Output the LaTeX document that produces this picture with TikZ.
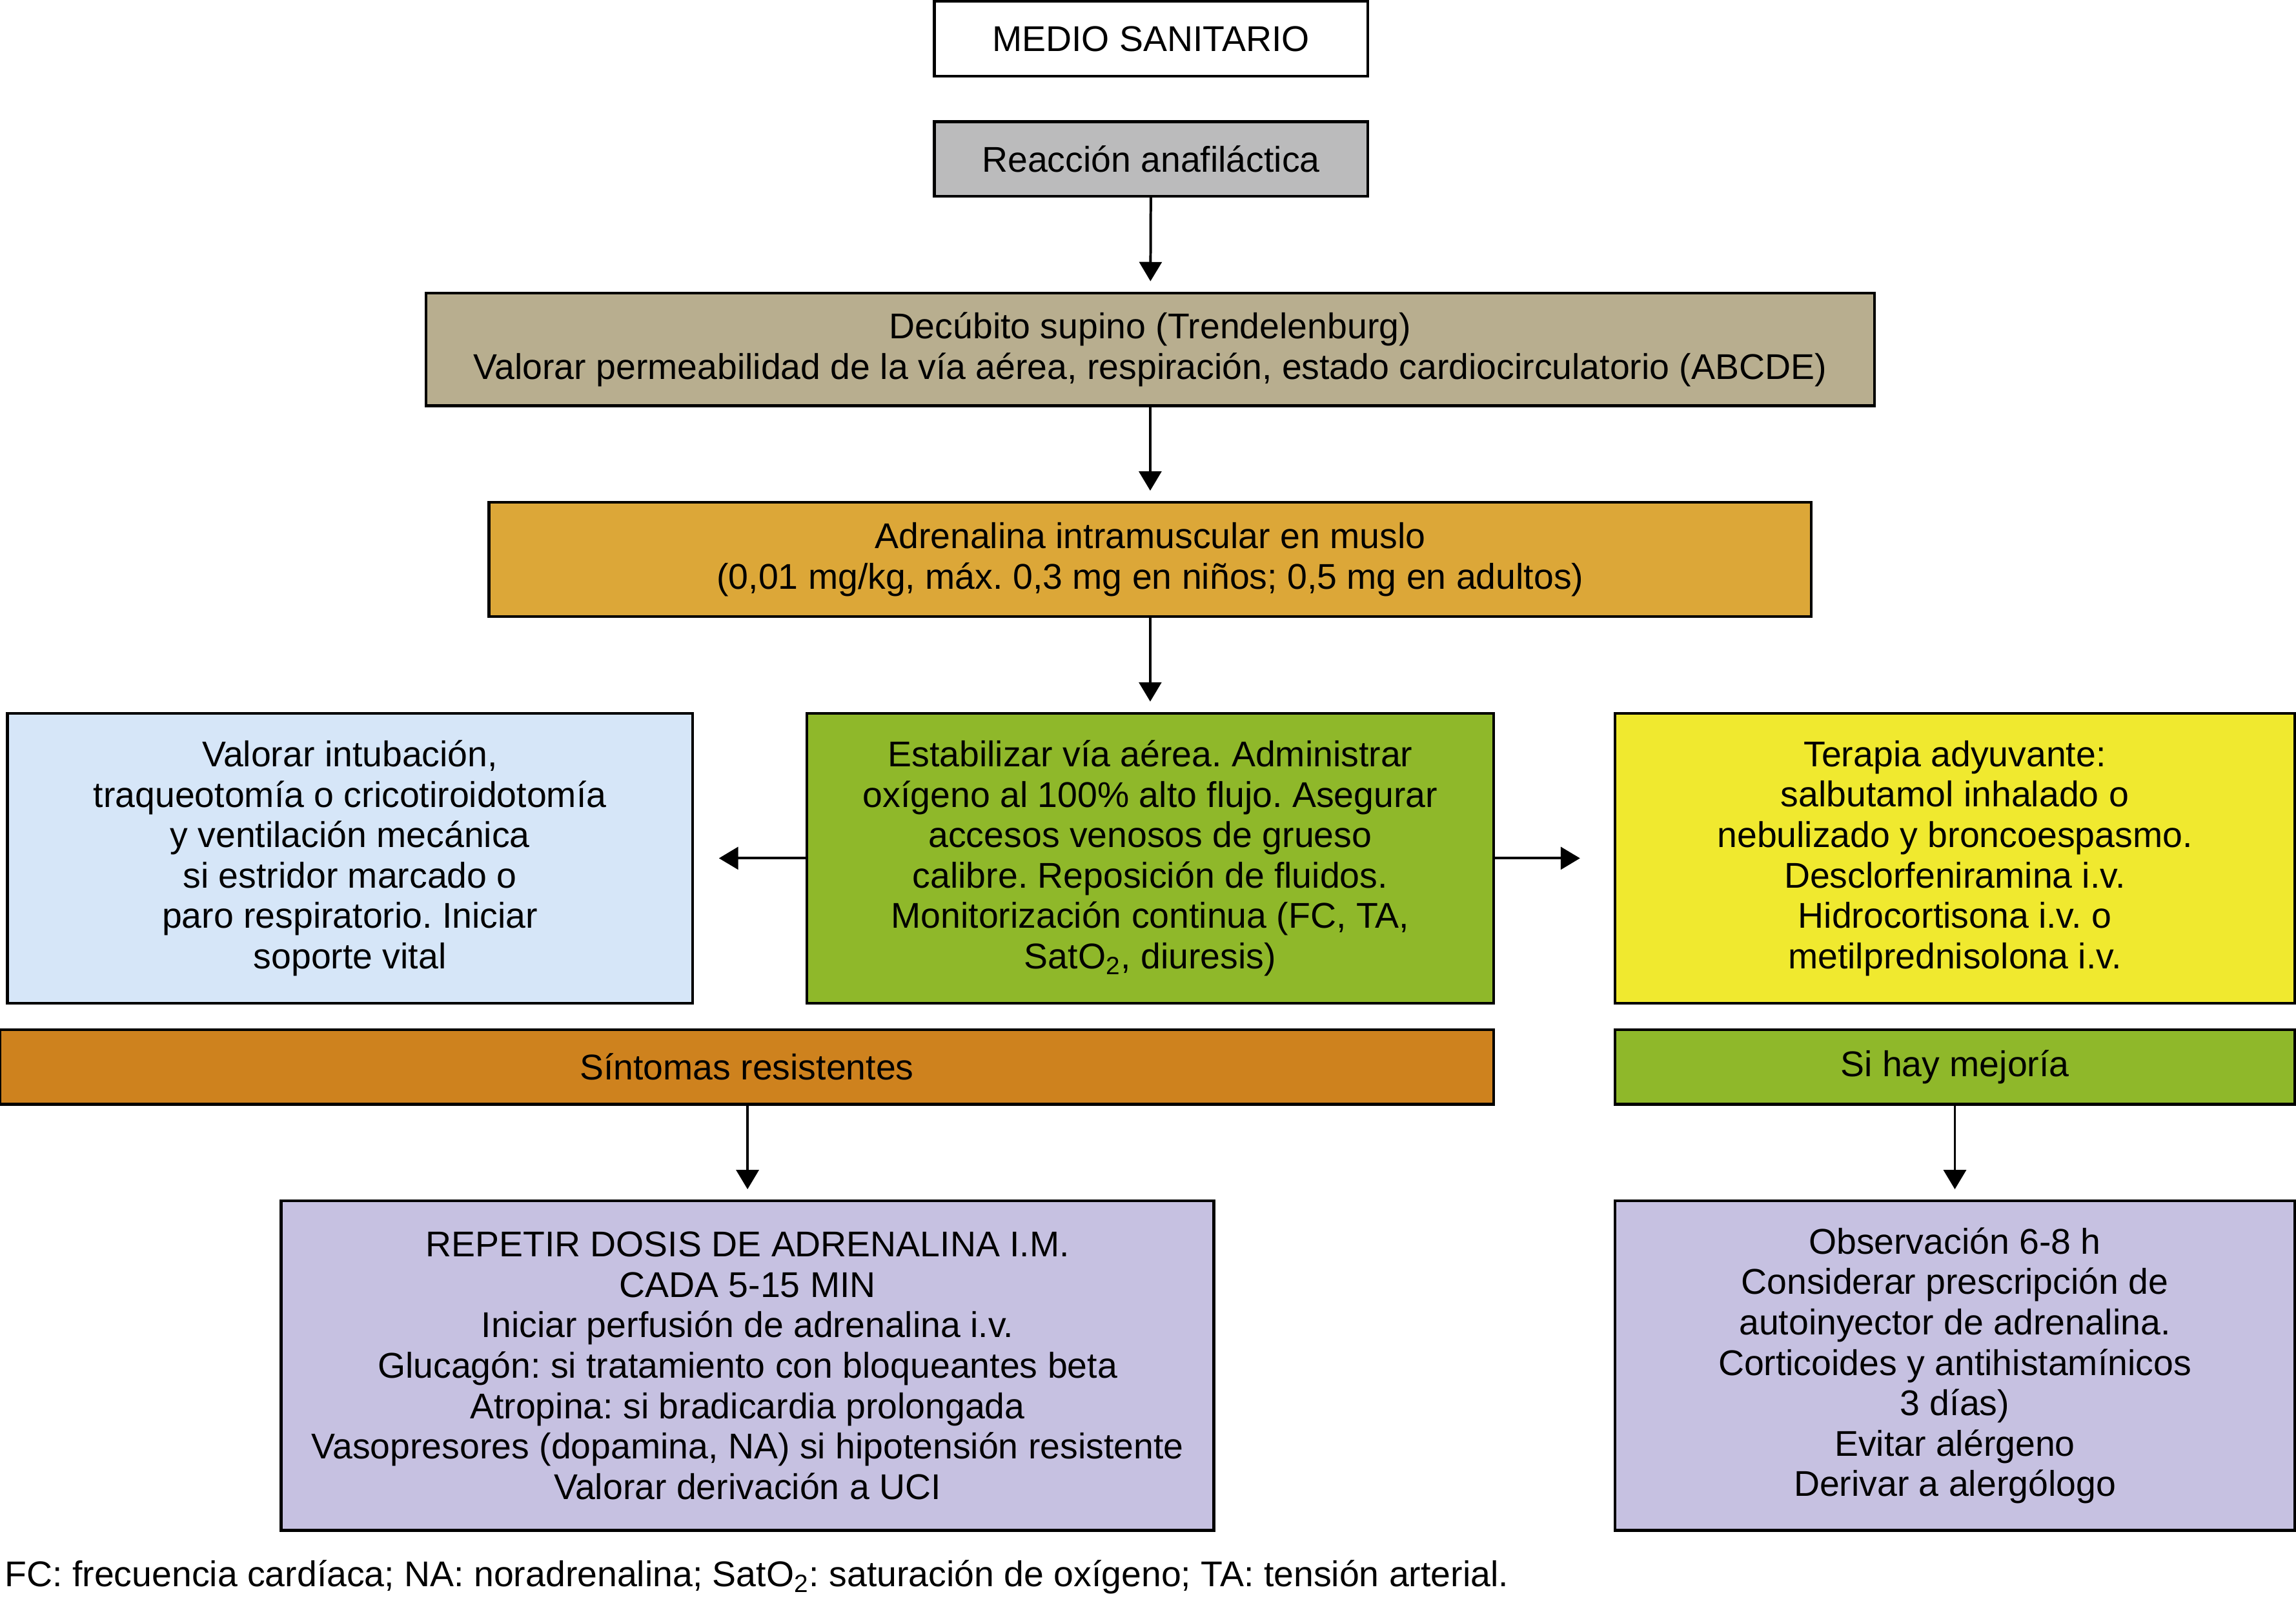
\documentclass[tikz,border=0pt]{standalone}
\usepackage{fontspec}
\setmainfont{Liberation Sans}
\usetikzlibrary{arrows.meta}
\frenchspacing
\definecolor{grisbox}{HTML}{BBBBBC}
\definecolor{tanbox}{HTML}{B8AE8F}
\definecolor{orobox}{HTML}{DCA738}
\definecolor{azulbox}{HTML}{D6E6F8}
\definecolor{verdebox}{HTML}{8FB82A}
\definecolor{amarbox}{HTML}{F0E92F}
\definecolor{naranjabox}{HTML}{CE821E}
\definecolor{lilabox}{HTML}{C6C1E1}
\tikzstyle{box}=[draw, line width=1.1pt, align=center, inner sep=2pt, font=\fontsize{13.9}{15.7}\selectfont]
\tikzstyle{sbox}=[box, minimum height=1.02cm]
\tikzstyle{tbox}=[box, minimum height=3.96cm]
\tikzstyle{lbox}=[box, minimum height=4.5cm]
\tikzstyle{flecha}=[-{Triangle[length=7.5pt,width=8.7pt]}, line width=1pt, shorten >=0.14cm]

\begin{document}
\begin{tikzpicture}
        \useasboundingbox (0,0) rectangle (31.36,-21.883);
        \node[sbox, minimum width=5.92cm] (medio) at (15.72,-0.53) {MEDIO SANITARIO};
        \node[sbox, fill=grisbox, minimum width=5.92cm] (reaccion) at (15.72,-2.17) {Reacción anafiláctica};
        \node[box, fill=tanbox, minimum width=19.78cm, minimum height=1.54cm] (decubito) at (15.71,-4.77) {Decúbito supino (Trendelenburg)\\Valorar permeabilidad de la vía aérea, respiración, estado cardiocirculatorio (ABCDE)};
        \node[box, fill=orobox, minimum width=18.06cm, minimum height=1.56cm] (adren) at (15.71,-7.64) {Adrenalina intramuscular en muslo\\(0,01 mg/kg, máx. 0,3 mg en niños; 0,5 mg en adultos)};
        \node[tbox, fill=azulbox, minimum width=9.36cm] (via) at (4.78,-11.72) {Valorar intubación,\\traqueotomía o cricotiroidotomía\\y ventilación mecánica\\si estridor marcado o\\paro respiratorio. Iniciar\\soporte vital};
        \node[tbox, fill=verdebox, minimum width=9.38cm] (estab) at (15.71,-11.72) {Estabilizar vía aérea. Administrar\\oxígeno al 100\% alto flujo. Asegurar\\accesos venosos de grueso\\calibre. Reposición de fluidos.\\Monitorización continua (FC, TA,\\SatO\textsubscript{2}, diuresis)};
        \node[tbox, fill=amarbox, minimum width=9.28cm] (terapia) at (26.70,-11.72) {Terapia adyuvante:\\salbutamol inhalado o\\nebulizado y broncoespasmo.\\Desclorfeniramina i.v.\\Hidrocortisona i.v. o\\metilprednisolona i.v.};
        \node[sbox, fill=naranjabox, minimum width=20.40cm] (sintomas) at (10.20,-14.57) {Síntomas resistentes};
        \node[sbox, fill=verdebox, minimum width=9.28cm] (mejoria) at (26.70,-14.57) {Si hay mejoría};
        \node[lbox, fill=lilabox, minimum width=12.74cm] (repetir) at (10.21,-18.65) {REPETIR DOSIS DE ADRENALINA I.M.\\CADA 5-15 MIN\\Iniciar perfusión de adrenalina i.v.\\Glucagón: si tratamiento con bloqueantes beta\\Atropina: si bradicardia prolongada\\Vasopresores (dopamina, NA) si hipotensión resistente\\Valorar derivación a UCI};
        \node[lbox, fill=lilabox, minimum width=9.28cm] (observ) at (26.70,-18.65) {Observación 6-8 h\\Considerar prescripción de\\autoinyector de adrenalina.\\Corticoides y antihistamínicos\\3 días)\\Evitar alérgeno\\Derivar a alergólogo};
        \node[anchor=west, inner sep=0pt, font=\fontsize{13.9}{15.7}\selectfont] (nota) at (0.06,-21.54) {FC: frecuencia cardíaca; NA: noradrenalina; SatO\textsubscript{2}: saturación de oxígeno; TA: tensión arterial.};
        \draw[flecha] (reaccion) -- (decubito);
        \draw[flecha] (decubito) -- (adren);
        \draw[flecha] (adren) -- (estab);
        \draw[flecha, shorten >=0.34cm] (estab) -- (via);
        \draw[flecha, shorten >=0.46cm] (estab) -- (terapia);
        \draw[flecha] (sintomas.south -| repetir.north) -- (repetir);
        \draw[flecha] (mejoria) -- (observ);
    \end{tikzpicture}
\end{document}
